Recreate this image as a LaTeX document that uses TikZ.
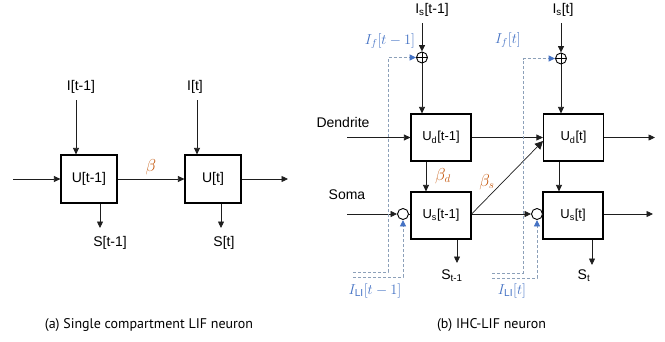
\documentclass[tikz,border=0pt]{standalone}
\usepackage{fontspec}
\setmainfont{Liberation Sans}
\newfontfamily\capfont{PT Sans}
\usetikzlibrary{arrows.meta,calc}
\definecolor{myblue}{RGB}{68,114,196}
\definecolor{myorange}{RGB}{197,90,17}
\definecolor{dashgray}{RGB}{140,160,185}
\definecolor{linegray}{RGB}{30,30,30}
\begin{document}
\begin{tikzpicture}[x=1pt,y=-1pt,
  cell/.style={draw=black,line width=1.2pt,minimum width=56pt,minimum height=48pt,inner sep=0pt,font=\fontsize{14}{16}\selectfont},
  rcell/.style={draw=black,line width=1.2pt,minimum width=60pt,minimum height=47pt,inner sep=0pt,font=\fontsize{13}{15}\selectfont},
  lbl/.style={inner sep=0pt,font=\fontsize{14}{16}\selectfont},
  blbl/.style={inner sep=0pt,text=myblue,font=\fontsize{14.5}{17}\selectfont},
  olbl/.style={inner sep=0pt,text=myorange,font=\fontsize{16}{18}\selectfont},
  arr/.style={draw=linegray,line width=0.7pt,-{Triangle[length=6.5pt,width=6pt]}},
  darr/.style={draw=dashgray,line width=0.9pt,dash pattern=on 3pt off 2pt,-{Triangle[length=6.5pt,width=6pt,fill=myblue,color=myblue]}},
  captxt/.style={inner sep=0pt,font=\capfont\fontsize{14}{16}\selectfont},
  sumc/.style={circle,draw=black,line width=0.9pt,minimum size=11pt,inner sep=0pt}
]
\useasboundingbox (0,0) rectangle (665,341);

% ---------- (a) ----------
\node[cell] (b1) at (89,179) {U[t-1]};
\node[cell] (b2) at (213,179) {U[t]};
\coordinate (inA) at (13,179);
\coordinate (outA) at (288,179);
\draw[arr] (inA) -- (b1.west);
\draw[arr] (b1.east) -- node[olbl,above=4pt,pos=0.5] (beta) {$\beta$} (b2.west);
\draw[arr] (b2.east) -- (outA);
\node[lbl] (I1) at (81,87) {I[t-1]};
\node[lbl] (I2) at (195,87) {I[t]};
\coordinate (i1) at (76,100);
\coordinate (i2) at (197,100);
\draw[arr] (i1) -- (i1 |- b1.north);
\draw[arr] (i2) -- (i2 |- b2.north);
\coordinate (s1) at (100,228);
\coordinate (s2) at (221,228);
\draw[arr] (s1 |- b1.south) -- (s1);
\draw[arr] (s2 |- b2.south) -- (s2);
\node[lbl] (S1) at (110,243) {S[t-1]};
\node[lbl] (S2) at (224,243) {S[t]};

% ---------- (b) ----------
\node[rcell] (ud1) at (441,137.5) {U\textsubscript{d}[t-1]};
\node[rcell] (us1) at (441,215.5) {U\textsubscript{s}[t-1]};
\node[rcell] (ud2) at (573.5,137.5) {U\textsubscript{d}[t]};
\node[rcell] (us2) at (573,215.5) {U\textsubscript{s}[t]};

\node[sumc] (p1) at (422,57.5) {};
\node[sumc] (p2) at (561,58.5) {};
\draw[line width=0.9pt] (p1.north) -- (p1.south) (p1.west) -- (p1.east);
\draw[line width=0.9pt] (p2.north) -- (p2.south) (p2.west) -- (p2.east);
\node[sumc] (c1) at (403,214) {};
\node[sumc] (c2) at (537,214) {};

\node[lbl] (Is1) at (432,10) {I\textsubscript{s}[t-1]};
\node[lbl] (Is2) at (563,10) {I\textsubscript{s}[t]};
\coordinate (is1) at (422,23);
\coordinate (is2) at (561,23);
\draw[arr] (is1) -- (p1.north);
\draw[arr] (is2) -- (p2.north);
\draw[arr] (p1.south) -- (p1.south |- ud1.north);
\draw[arr] (p2.south) -- (p2.south |- ud2.north);

\node[lbl] (den) at (343,122) {Dendrite};
\node[lbl] (soma) at (347,195) {Soma};
\coordinate (dIn) at (347,137.5);
\coordinate (sIn) at (347,214);
\draw[arr] (dIn) -- (ud1.west);
\draw[arr] (sIn) -- (c1.west);
\draw[draw=linegray,line width=0.7pt] (c1.east) -- (c1.east -| us1.west);
\draw[arr] (ud1.east) -- (ud2.west);
\coordinate (dOut) at (655,137.5);
\draw[arr] (ud2.east) -- (dOut);
\draw[arr] (us1.east |- c1) -- (c2.west);
\draw[draw=linegray,line width=0.7pt] (c2.east) -- (c2.east -| us2.west);
\coordinate (sOut) at (653,214);
\draw[arr] (us2.east |- c2) -- (sOut);

% vertical d->s
\coordinate (v1) at (426,0);
\coordinate (v2) at (559,0);
\draw[arr] (v1 |- ud1.south) -- (v1 |- us1.north);
\draw[arr] (v2 |- ud2.south) -- (v2 |- us2.north);
\node[olbl] (bd) at (443,176) {$\beta_d$};

% diagonal
\coordinate (dg) at (543,141);
\draw[draw=linegray,line width=0.7pt,-{Triangle[length=8pt,width=8pt]}] (us1.east |- c1) -- (dg);
\node[olbl] (bs) at (487,182) {$\beta_s$};

% spikes
\coordinate (st1) at (457,263);
\coordinate (st2) at (592,265);
\draw[arr] (st1 |- us1.south) -- (st1);
\draw[arr] (st2 |- us2.south) -- (st2);
\node[lbl] (S3) at (452,276) {S\textsubscript{t-1}};
\node[lbl] (S4) at (584,276) {S\textsubscript{t}};

% dashed feedback
\coordinate (f1a) at (353,272);
\coordinate (f1b) at (388,272);
\draw[darr] (f1a) -- (f1b) |- (p1.west);
\coordinate (l1a) at (353,277);
\coordinate (l1b) at (403,277);
\draw[darr] (l1a) -- (l1b) -- (c1.south);
\coordinate (f2a) at (492,273);
\coordinate (f2b) at (523,273);
\draw[darr] (f2a) -- (f2b) |- (p2.west);
\coordinate (l2a) at (492,278);
\coordinate (l2b) at (537,278);
\draw[darr] (l2a) -- (l2b) -- (c2.south);

\node[blbl] (If1) at (390,41) {$I_f[t-1]$};
\node[blbl] (If2) at (508,40) {$I_f[t]$};
\node[blbl] (IL1) at (375,291) {$I_{\mathrm{LI}}[t-1]$};
\node[blbl] (IL2) at (512,291) {$I_{\mathrm{LI}}[t]$};

% captions
\node[captxt] (capA) at (149,325) {(a) Single compartment LIF neuron};
\node[captxt] (capB) at (491.5,325) {(b) IHC-LIF neuron};
\end{tikzpicture}
\end{document}
